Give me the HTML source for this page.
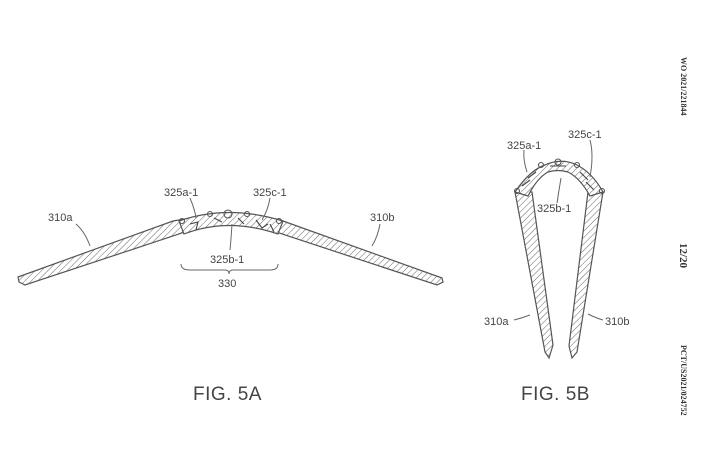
<!DOCTYPE html>
<html><head><style>
html,body{margin:0;padding:0;background:#fff;}
svg{display:block;}
text{font-family:"Liberation Sans",sans-serif;fill:#444;}
</style></head><body>
<svg width="703" height="456" viewBox="0 0 703 456" xmlns="http://www.w3.org/2000/svg">
<defs>
<pattern id="h" width="4.5" height="4.5" patternUnits="userSpaceOnUse" patternTransform="rotate(45)">
<rect width="5" height="5" fill="#fff"/><line x1="0" y1="0" x2="0" y2="5" stroke="#666" stroke-width="1"/>
</pattern>
</defs>
<g stroke="#555" stroke-width="1.2" fill="url(#h)">
<!-- Fig 5A -->
<path d="M18,277 L173,221 L185,219 L185,232 L25,285 L19,282 Z"/>
<path d="M283,221 L276,219 L276,232 L437,285 L443,282 L442,278 Z"/>
<path d="M179,221 Q228,204 283,221 L278,234 Q228,217 184,234 Z"/>
</g>
<g fill="none" stroke="#555" stroke-width="1.1">
<circle cx="182" cy="221" r="2.5"/><circle cx="210" cy="214" r="2.5"/><circle cx="228" cy="214" r="4"/><circle cx="247" cy="214" r="2.5"/><circle cx="279" cy="221" r="2.5"/>
<path d="M190,224 L198,222 L196,230 M214,218 L222,222 M238,218 L244,224 M256,220 L262,228 L268,224 M270,224 L274,232" stroke="#444"/>
</g>
<g fill="none" stroke="#666" stroke-width="1">
<path d="M76,224 Q85,232 90,246"/>
<path d="M190,198 Q195,210 196,218"/>
<path d="M270,198 Q268,210 262,220"/>
<path d="M380,224 Q378,236 372,246"/>
<path d="M232,224 Q231,240 230,250"/>
<path d="M181,264 Q181,270 190,270 L225,270 Q229,270 229,274 Q229,270 233,270 L270,270 Q278,270 278,264"/>
</g>
<g stroke="#555" stroke-width="1.2" fill="url(#h)">
<!-- Fig 5B -->
<path d="M515,192 L532,192 L553,345 L549,358 L545,352 Z"/>
<path d="M588,192 L603,192 L577,352 L572,358 L569,346 Z"/>
<path d="M515,192 Q530,170 545,165 Q560,158 575,164 Q592,172 603,192 L590,196 Q580,178 568,172 Q558,169 548,172 Q537,178 528,196 Z"/>
</g>
<g fill="none" stroke="#555" stroke-width="1.1">
<circle cx="517" cy="191" r="2.5"/><circle cx="541" cy="165" r="2.5"/><circle cx="558" cy="162" r="3"/><circle cx="577" cy="165" r="2.5"/><circle cx="602" cy="191" r="2.5"/>
<path d="M522,186 L530,180 M528,178 L536,172 M580,172 L588,180 M586,182 L594,190 M550,166 L566,166" stroke="#444"/>
</g>
<g fill="none" stroke="#666" stroke-width="1">
<path d="M524,150 Q523,160 527,172"/>
<path d="M590,140 Q594,155 590,177"/>
<path d="M557,203 Q559,190 561,178"/>
<path d="M514,320 Q522,318 530,315"/>
<path d="M603,320 Q596,318 588,314"/>
</g>
<g font-size="11">
<text x="48" y="221">310a</text>
<text x="164" y="196">325a-1</text>
<text x="253" y="196">325c-1</text>
<text x="370" y="221">310b</text>
<text x="210" y="263">325b-1</text>
<text x="218" y="287">330</text>
<text x="507" y="149">325a-1</text>
<text x="568" y="138">325c-1</text>
<text x="537" y="212">325b-1</text>
<text x="484" y="325">310a</text>
<text x="605" y="325">310b</text>
</g>
<text x="193" y="400" font-size="19" fill="#333" letter-spacing="0.5">FIG. 5A</text>
<text x="521" y="400" font-size="19" fill="#333" letter-spacing="0.5">FIG. 5B</text>
<g font-weight="bold" font-size="8">
<text transform="translate(681,57) rotate(90)" style="font-family:'Liberation Serif',serif;fill:#333">WO 2021/221844</text>
<text transform="translate(680,243) rotate(90)" style="font-family:'Liberation Serif',serif;fill:#333;font-size:11px">12/20</text>
<text transform="translate(681,345) rotate(90)" style="font-family:'Liberation Serif',serif;fill:#333">PCT/US2021/024752</text>
</g>
</svg>
</body></html>
